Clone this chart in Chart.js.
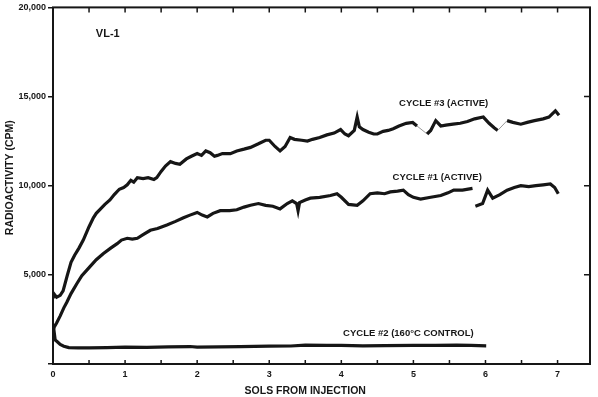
<!DOCTYPE html>
<html>
<head>
<meta charset="utf-8">
<script src="https://cdn.jsdelivr.net/npm/chart.js@4/dist/chart.umd.min.js"></script>
<style>
  html, body { margin: 0; padding: 0; background: #fff; }
  #wrap { width: 598px; height: 397px; position: relative; }
</style>
</head>
<body>
<div id="wrap"><canvas id="lrChart"></canvas></div>
<script>
// values (sols, counts per minute); null = gap in the record
const cycle3Sols = [0.00, 0.02, 0.05, 0.10, 0.14, 0.20, 0.25, 0.30, 0.36, 0.42, 0.50, 0.56, 0.60, 0.66, 0.72, 0.79, 0.85, 0.92, 0.98, 1.03,
    1.08, 1.12, 1.17, 1.25, 1.32, 1.40, 1.44, 1.50, 1.56, 1.63, 1.70, 1.76, 1.85, 1.92, 2.00, 2.06, 2.12, 2.18, 2.24, 2.28,
    2.35, 2.46, 2.55, 2.65, 2.74, 2.85, 2.95, 3.00, 3.08, 3.15, 3.22, 3.29, 3.35, 3.45, 3.53, 3.60, 3.70, 3.80, 3.90, 3.99,
    4.05, 4.10, 4.18, 4.22, 4.25, 4.30, 4.38, 4.45, 4.50, 4.58, 4.65, 4.72, 4.80, 4.90, 4.99, 5.05, 5.12,
    5.19, 5.24, 5.31, 5.38, 5.45, 5.55, 5.65, 5.75, 5.85, 5.97, 6.05, 6.12, 6.17, 6.23,
    6.30, 6.38, 6.49, 6.58, 6.68, 6.80, 6.88, 6.97, 7.02];
const cycle3Cpm = [3700, 3900, 3750, 3850, 4100, 5000, 5700, 6100, 6500, 6950, 7700, 8200, 8450, 8700, 8950, 9200, 9500, 9800, 9900, 10050,
    10300, 10200, 10450, 10400, 10450, 10350, 10450, 10800, 11100, 11350, 11250, 11200, 11500, 11650, 11800, 11700, 11950, 11850, 11650, 11700,
    11800, 11800, 11950, 12050, 12150, 12350, 12550, 12550, 12200, 11950, 12200, 12700, 12600, 12550, 12500, 12600, 12700, 12850, 12950, 13150,
    12900, 12800, 13100, 13850, 13300, 13150, 13000, 12900, 12900, 13050, 13100, 13200, 13350, 13500, 13550, 13350, null,
    12900, 13100, 13650, 13350, 13400, 13450, 13500, 13600, 13750, 13850, 13500, 13250, 13100, null,
    13650, 13550, 13450, 13550, 13650, 13750, 13850, 14200, 13950];

const cycle1Sols = [0.00, 0.02, 0.05, 0.10, 0.15, 0.19, 0.25, 0.33, 0.40, 0.51, 0.60, 0.70, 0.80, 0.89, 0.95, 1.03, 1.10, 1.17, 1.25, 1.35,
    1.45, 1.58, 1.70, 1.81, 1.90, 2.00, 2.07, 2.14, 2.22, 2.32, 2.45, 2.55, 2.65, 2.74, 2.85, 2.95, 3.05, 3.15, 3.25, 3.32,
    3.38, 3.40, 3.42, 3.50, 3.57, 3.70, 3.85, 3.94, 4.00, 4.10, 4.22, 4.30, 4.40, 4.50, 4.60, 4.68, 4.78, 4.86, 4.93, 5.00,
    5.10, 5.24, 5.38, 5.48, 5.56, 5.68, 5.82, 5.84,
    5.86, 5.96, 6.03, 6.10, 6.20, 6.30, 6.40, 6.49, 6.60, 6.70, 6.80, 6.90, 6.96, 7.01];
const cycle1Cpm = [1900, 2100, 2300, 2700, 3150, 3450, 3950, 4500, 4950, 5450, 5850, 6200, 6500, 6750, 6950, 7050, 7000, 7050, 7250, 7500,
    7600, 7800, 8000, 8200, 8350, 8500, 8350, 8250, 8450, 8600, 8600, 8650, 8800, 8900, 9000, 8900, 8850, 8700, 9000, 9150,
    9000, 8600, 9050, 9200, 9300, 9350, 9450, 9550, 9350, 8950, 8900, 9150, 9550, 9600, 9550, 9650, 9700, 9750, 9500, 9350,
    9250, 9350, 9450, 9600, 9750, 9750, 9850, null,
    8850, 9000, 9750, 9300, 9500, 9750, 9900, 10000, 9950, 10000, 10050, 10100, 9900, 9550];

const cycle2Sols = [0.00, 0.01, 0.03, 0.06, 0.10, 0.15, 0.22, 0.35, 0.50, 0.75, 1.00, 1.30, 1.60, 1.90, 2.00, 2.30, 2.60, 3.00, 3.30, 3.50,
    3.80, 4.00, 4.30, 4.60, 5.00, 5.30, 5.60, 5.80, 6.01];
const cycle2Cpm = [1500, 2000, 1350, 1250, 1100, 1000, 920, 900, 900, 920, 950, 930, 960, 980, 950, 960, 980, 1000, 1010, 1060,
    1040, 1050, 1020, 1030, 1040, 1050, 1060, 1040, 1020];

const xTickValues = [0, 1, 2, 3, 4, 5, 6, 7];
const yTickValues = [0, 5000, 10000, 15000, 20000];
const yTickLabels = ['', '5,000', '10,000', '15,000', '20,000'];

(function(){
    const INK = '#161616';

    function pts(xs, ys){
        return xs.map((x, i) => ({ x: x, y: ys[i] }));
    }

    // cycle 3: a thin faint connector is drawn across each gap in the record
    const skipped = (c, v, d) => (c.p0.skip || c.p1.skip ? v : d);
    const gapSegment = {
        borderWidth: c => skipped(c, 1, 3.2),
        borderColor: c => skipped(c, '#999', INK)
    };

    // box, inward ticks, titles and curve labels
    const decor = {
        id: 'decor',
        afterDraw(chart){
            const ctx = chart.ctx;
            const a = chart.chartArea;
            const xs = chart.scales.x, ys = chart.scales.y;
            ctx.save();
            ctx.strokeStyle = INK;
            ctx.lineWidth = 2;
            ctx.strokeRect(a.left, a.top, a.right - a.left, a.bottom - a.top);

            ctx.lineWidth = 1.5;
            ctx.beginPath();
            for(let v = 0.5; v <= 7.01; v += 0.5){
                const px = xs.getPixelForValue(v);
                ctx.moveTo(px, a.bottom); ctx.lineTo(px, a.bottom - 4);
                ctx.moveTo(px, a.top); ctx.lineTo(px, a.top + 5);
            }
            for(let v = 5000; v < 20000; v += 5000){
                const py = ys.getPixelForValue(v);
                ctx.moveTo(a.right, py); ctx.lineTo(a.right - 6, py);
            }
            ctx.stroke();

            ctx.fillStyle = INK;
            ctx.textAlign = 'center';
            ctx.textBaseline = 'middle';
            ctx.font = 'bold 10.5px "Liberation Sans", Arial, sans-serif';
            ctx.fillText('SOLS FROM INJECTION', xs.getPixelForValue(3.5), 391);

            ctx.save();
            ctx.translate(10, (a.top + a.bottom) / 2 - 8);
            ctx.rotate(-Math.PI / 2);
            ctx.fillText('RADIOACTIVITY (CPM)', 0, 0);
            ctx.restore();

            ctx.font = 'bold 11px "Liberation Sans", Arial, sans-serif';
            ctx.fillText('VL-1', xs.getPixelForValue(0.76), ys.getPixelForValue(18500));

            ctx.font = 'bold 9.5px "Liberation Sans", Arial, sans-serif';
            ctx.fillText('CYCLE #3 (ACTIVE)', xs.getPixelForValue(5.42), ys.getPixelForValue(14600));
            ctx.fillText('CYCLE #1 (ACTIVE)', xs.getPixelForValue(5.33), ys.getPixelForValue(10450));
            ctx.fillText('CYCLE #2 (160°C CONTROL)', xs.getPixelForValue(4.93), ys.getPixelForValue(1700));
            ctx.restore();
        }
    };

    function initChart(){
        const canvas = document.getElementById('lrChart');
        if(!canvas) return;
        if(typeof Chart === 'undefined'){ setTimeout(initChart, 50); return; }

        const line = (data, span, seg) => ({
            data: data,
            borderColor: INK,
            borderWidth: 3.2,
            pointRadius: 0,
            tension: 0,
            spanGaps: span,
            segment: seg
        });

        new Chart(canvas.getContext('2d'), {
            type: 'line',
            data: {
                datasets: [
                    line(pts(cycle3Sols, cycle3Cpm), true, gapSegment),
                    line(pts(cycle1Sols, cycle1Cpm), false),
                    line(pts(cycle2Sols, cycle2Cpm), false)
                ]
            },
            options: {
                responsive: true,
                maintainAspectRatio: false,
                animation: false,
                layout: { padding: { top: 6, right: 8, left: 0, bottom: 0 } },
                plugins: { legend: { display: false }, tooltip: { enabled: false } },
                scales: {
                    x: {
                        type: 'linear',
                        min: 0, max: 7.45,
                        afterFit: s => { s.height = 33; },
                        afterBuildTicks: s => { s.ticks = xTickValues.map(v => ({ value: v })); },
                        grid: { display: false, drawTicks: false },
                        border: { display: false },
                        ticks: {
                            color: INK, padding: 5, maxRotation: 0,
                            font: { family: '"Liberation Sans", Arial, sans-serif', size: 9, weight: 'bold' },
                            callback: v => String(v)
                        }
                    },
                    y: {
                        min: 0, max: 20000,
                        afterFit: s => { s.width = 53; },
                        afterBuildTicks: s => { s.ticks = yTickValues.map(v => ({ value: v })); },
                        grid: { drawOnChartArea: false, drawTicks: true, tickLength: 5, color: INK, lineWidth: 1.5 },
                        border: { display: false },
                        ticks: {
                            color: INK, padding: 2,
                            font: { family: '"Liberation Sans", Arial, sans-serif', size: 9, weight: 'bold' },
                            callback: (v, i) => yTickLabels[i]
                        }
                    }
                }
            },
            plugins: [decor]
        });
    }

    if(document.readyState === 'loading'){
        document.addEventListener('DOMContentLoaded', initChart);
    } else {
        initChart();
    }
})();
</script>
</body>
</html>
